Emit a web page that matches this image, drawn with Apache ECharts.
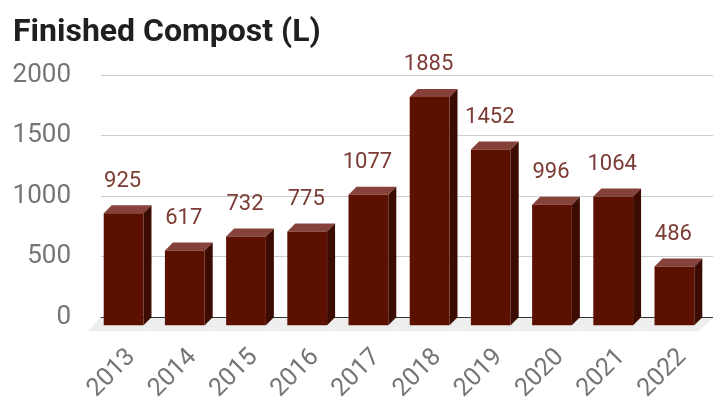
<!DOCTYPE html>
<html>
<head lang="en">
    <meta charset="UTF-8">
    <title>Finished Compost</title>
</head>
<body style="margin:0">
<div id="container" style="height:404px;width:713px"></div>
<script type="text/javascript" src="https://cdn.jsdelivr.net/npm/echarts@6/dist/echarts.min.js"></script>
<script type="text/javascript">
    var years = ['2013', '2014', '2015', '2016', '2017', '2018', '2019', '2020', '2021', '2022'];
    var compost = [925, 617, 732, 775, 1077, 1885, 1452, 996, 1064, 486];
    var yTicks = {min: 0, max: 2000, interval: 500};

    var dom = document.getElementById("container");
    var myChart = echarts.init(dom);

    var depth = 8;       // bar depth offset
    var floorDepth = 14; // floor depth offset

    // one floor strip per category band
    function renderFloor(params, api) {
        var p = api.coord([api.value(0), 0]);
        var w = api.size([1, 0])[0];
        var l = p[0] - w / 2, r = p[0] + w / 2, y = p[1];
        return {
            type: 'polygon',
            shape: {points: [[l, y], [r, y], [r - floorDepth, y + floorDepth], [l - floorDepth, y + floorDepth]]},
            style: {fill: '#eeeeee'}
        };
    }

    function renderBar(params, api) {
        var top = api.coord([api.value(0), api.value(1)]);
        var base = api.coord([api.value(0), 0]);
        var bw = api.size([1, 0])[0] * 0.65;
        var d = depth;
        var bx = top[0] - bw / 2;
        var ty = top[1], by = base[1];
        return {
            type: 'group',
            children: [
                {
                    type: 'polygon',
                    shape: {points: [[bx - d, ty + d], [bx, ty], [bx + bw, ty], [bx + bw - d, ty + d]]},
                    style: {fill: '#86413a'}
                },
                {
                    type: 'polygon',
                    shape: {points: [[bx + bw - d, ty + d], [bx + bw, ty], [bx + bw, by], [bx + bw - d, by + d]]},
                    style: {fill: '#3c0b02'}
                },
                {
                    type: 'rect',
                    shape: {x: bx - d, y: ty + d, width: bw, height: by - ty},
                    style: {fill: '#5c1100'}
                },
                {
                    type: 'text',
                    style: {
                        text: String(api.value(1)),
                        x: top[0] - d - 1,
                        y: ty - 24,
                        align: 'center',
                        verticalAlign: 'middle',
                        fontFamily: 'Roboto',
                        fontSize: 22,
                        fill: '#7b3b34'
                    }
                }
            ]
        };
    }

    var option = {
        animation: false,
        title: {
            text: 'Finished Compost (L)',
            left: 8,
            top: 12,
            textStyle: {fontFamily: 'Roboto', fontSize: 32, fontWeight: 'bold', color: '#1f1f1f'}
        },
        grid: {left: 101, right: -3, top: 75, bottom: 86},
        xAxis: {
            type: 'category',
            data: years,
            z: 2,
            axisLine: {lineStyle: {color: '#333333', width: 1}},
            axisTick: {show: false},
            axisLabel: {rotate: 45, margin: 36, fontFamily: 'Roboto', fontSize: 25, color: '#757575'}
        },
        yAxis: {
            type: 'value',
            min: yTicks.min,
            max: yTicks.max,
            interval: yTicks.interval,
            axisLine: {show: false},
            axisTick: {show: false},
            axisLabel: {
                margin: 30, fontFamily: 'Roboto', fontSize: 26, color: '#757575',
                formatter: function (v) { return String(v); }
            },
            splitLine: {lineStyle: {color: '#cccccc', width: 1}}
        },
        series: [
            {
                type: 'custom',
                z: 1,
                renderItem: renderFloor,
                data: years.map(function (y, i) { return [i, 0]; })
            },
            {
                type: 'custom',
                z: 3,
                renderItem: renderBar,
                data: compost.map(function (v, i) { return [i, v]; })
            }
        ]
    };
    myChart.setOption(option);
</script>
</body>
</html>
